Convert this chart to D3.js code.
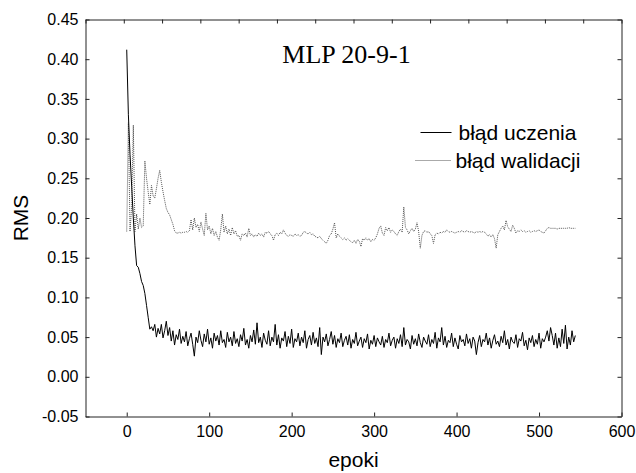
<!DOCTYPE html>
<html>
<head>
<meta charset="utf-8">
<script src="https://cdn.jsdelivr.net/npm/d3@7"></script>
<style>
  body { margin: 0; background: #fff; }
  svg { display: block; }
</style>
</head>
<body>
<div id="chart"></div>
<script>
// RMS co 2 epoki (epoka = indeks * 2)
const epochStep = 2;

const trainRms = [
  .412,.330,.280,.240,.200,.165,.140,.138,.130,.120,.115,.105,.090,.075,.060,
  .063,.058,.066,.050,.061,.054,.066,.049,.058,.070,
  .052,.062,.045,.058,.040,.053,.047,.060,.042,.051,
  .044,.057,.039,.048,.055,.041,.026,.050,.043,.058,
  .046,.038,.054,.044,.060,.041,.049,.036,.055,.045,
  .052,.040,.058,.043,.047,.037,.056,.044,.050,.039,
  .057,.042,.048,.038,.053,.045,.061,.040,.047,.036,
  .052,.044,.059,.041,.068,.043,.050,.037,.055,.046,
  .041,.058,.039,.050,.044,.066,.040,.053,.036,.049,
  .045,.057,.038,.051,.042,.060,.037,.048,.044,.055,
  .039,.050,.043,.058,.036,.047,.052,.040,.056,.042,
  .049,.038,.062,.028,.050,.044,.054,.039,.047,.057,
  .041,.052,.037,.048,.043,.055,.038,.046,.051,.040,
  .053,.036,.047,.042,.056,.039,.045,.050,.037,.048,
  .043,.054,.035,.046,.041,.052,.038,.049,.044,.040,
  .051,.037,.047,.043,.055,.039,.046,.050,.036,.048,
  .042,.053,.038,.062,.040,.047,.044,.035,.052,.041,
  .048,.039,.054,.043,.037,.050,.045,.041,.053,.038,
  .047,.042,.056,.036,.049,.044,.062,.040,.051,.037,
  .046,.043,.055,.038,.049,.041,.035,.052,.044,.047,
  .039,.054,.042,.048,.036,.050,.045,.028,.043,.052,
  .038,.047,.044,.055,.040,.049,.036,.046,.053,.041,
  .045,.038,.051,.043,.058,.040,.047,.035,.050,.044,
  .042,.053,.037,.048,.045,.056,.039,.046,.034,.049,
  .043,.052,.038,.047,.041,.055,.036,.048,.044,.050,
  .058,.045,.062,.052,.040,.055,.036,.049,.038,.060,
  .042,.065,.035,.050,.040,.058,.044,.052
];

const valRms = [
  .183,.320,.183,.215,.317,.183,.205,.186,.200,.188,.190,.272,.250,.233,.217,
  .241,.228,.225,.237,.250,.260,.245,.233,.222,.212,
  .207,.204,.198,.192,.184,.181,.181,.182,.181,.182,
  .182,.183,.182,.184,.198,.185,.200,.188,.192,.183,
  .195,.186,.178,.206,.185,.190,.180,.187,.178,.183,
  .176,.172,.185,.205,.182,.190,.180,.186,.178,.188,
  .180,.184,.177,.178,.172,.180,.178,.181,.176,.187,
  .178,.180,.176,.179,.177,.181,.178,.180,.176,.182,
  .181,.183,.180,.178,.172,.179,.181,.178,.182,.180,
  .185,.181,.178,.177,.179,.178,.177,.180,.178,.179,
  .177,.178,.182,.183,.181,.180,.182,.179,.180,.177,
  .176,.175,.177,.174,.172,.170,.168,.172,.178,.180,
  .186,.194,.175,.180,.177,.175,.173,.175,.172,.174,
  .172,.170,.169,.172,.168,.173,.171,.164,.174,.172,
  .175,.172,.174,.170,.173,.172,.175,.180,.187,.190,
  .181,.178,.188,.184,.188,.182,.185,.183,.180,.178,
  .183,.186,.182,.214,.188,.185,.180,.184,.187,.183,
  .186,.194,.183,.162,.178,.183,.184,.182,.183,.180,
  .178,.168,.179,.181,.180,.182,.181,.183,.182,.185,
  .183,.182,.183,.182,.181,.182,.183,.182,.184,.183,
  .182,.184,.183,.182,.183,.182,.181,.183,.182,.183,
  .182,.183,.182,.180,.177,.179,.176,.179,.174,.162,
  .179,.183,.187,.190,.185,.197,.189,.186,.183,.191,
  .187,.181,.184,.183,.185,.183,.184,.182,.183,.184,
  .182,.183,.184,.183,.184,.185,.183,.182,.181,.184,
  .187,.188,.187,.187,.187,.187,.186,.187,.187,.187,
  .187,.187,.187,.188,.187,.187,.187,.187
];

const xTicks = [0, 100, 200, 300, 400, 500, 600];
const yTicks = [-0.05, 0, 0.05, 0.10, 0.15, 0.20, 0.25, 0.30, 0.35, 0.40, 0.45];
const topTickCount = 14;
const legendLabels = ["błąd uczenia", "błąd walidacji"];
const titleText = "MLP 20-9-1";
const xLabel = "epoki";
const yLabel = "RMS";

const margin = { top: 19.5, right: 14.5, bottom: 56.5, left: 85.5 };
const outerWidth = 636;
const outerHeight = 473;
const width = outerWidth - margin.left - margin.right;
const height = outerHeight - margin.top - margin.bottom;

const svg = d3.select("#chart")
  .append("svg")
  .attr("width", outerWidth)
  .attr("height", outerHeight)
  .style("font-family", "Arial, 'Liberation Sans', sans-serif");

const g = svg.append("g")
  .attr("transform", `translate(${margin.left},${margin.top})`);

const x = d3.scaleLinear().domain([-50, 600]).range([0, width]);
const y = d3.scaleLinear().domain([-0.05, 0.45]).range([height, 0]);

// osie - kreski do srodka
const axisColor = "#222";

const xAxis = g.append("g")
  .attr("transform", `translate(0,${height})`)
  .call(d3.axisBottom(x).tickValues(xTicks).tickSizeInner(-4).tickSizeOuter(0).tickPadding(9));

const yAxis = g.append("g")
  .call(d3.axisLeft(y).tickValues(yTicks).tickSizeInner(-4).tickSizeOuter(0).tickPadding(7)
    .tickFormat(d => d.toFixed(2)));

const topTicks = d3.range(topTickCount + 1).map(i => -50 + i * 650 / topTickCount);
const topAxis = g.append("g")
  .call(d3.axisTop(x).tickValues(topTicks).tickSizeInner(-4).tickSizeOuter(0).tickFormat(""));

const rightAxis = g.append("g")
  .attr("transform", `translate(${width},0)`)
  .call(d3.axisRight(y).tickValues(yTicks).tickSizeInner(-4).tickSizeOuter(0).tickFormat(""));

[xAxis, yAxis, topAxis, rightAxis].forEach(a => {
  a.selectAll("path, line").attr("stroke", axisColor);
  a.selectAll("text")
    .attr("fill", "#000")
    .style("font-size", "16px")
    .style("font-family", "Arial, 'Liberation Sans', sans-serif");
});

// linie
const line = d3.line()
  .x((d, i) => x(i * epochStep))
  .y(d => y(d));

g.append("path")
  .datum(valRms)
  .attr("fill", "none")
  .attr("stroke", "#555")
  .attr("stroke-width", 1)
  .attr("stroke-dasharray", "1,1")
  .attr("d", line);

g.append("path")
  .datum(trainRms)
  .attr("fill", "none")
  .attr("stroke", "#000")
  .attr("stroke-width", 1)
  .attr("d", line);

// tytul
g.append("text")
  .attr("x", 261)
  .attr("y", 43)
  .attr("text-anchor", "middle")
  .style("font-family", "'Times New Roman', 'Liberation Serif', serif")
  .style("font-size", "26px")
  .text(titleText);

// legenda
const legend = g.append("g").attr("transform", "translate(330,113)");
legend.selectAll("line")
  .data(legendLabels)
  .enter()
  .append("line")
  .attr("x1", (d, i) => i === 0 ? 5 : 0)
  .attr("x2", 36)
  .attr("y1", (d, i) => i * 28)
  .attr("y2", (d, i) => i * 28)
  .attr("stroke", (d, i) => i === 0 ? "#000" : "#555")
  .attr("stroke-dasharray", (d, i) => i === 0 ? null : "1,1");

legend.selectAll("text")
  .data(legendLabels)
  .enter()
  .append("text")
  .attr("x", (d, i) => i === 0 ? 43 : 40)
  .attr("y", (d, i) => i * 28 + 7)
  .style("font-size", "21px")
  .text(d => d);

// tytuly osi
svg.append("text")
  .attr("x", 353.5)
  .attr("y", 467)
  .attr("text-anchor", "middle")
  .style("font-size", "21px")
  .text(xLabel);

svg.append("text")
  .attr("transform", "translate(28,218) rotate(-90)")
  .attr("text-anchor", "middle")
  .style("font-size", "21px")
  .text(yLabel);
</script>
</body>
</html>
